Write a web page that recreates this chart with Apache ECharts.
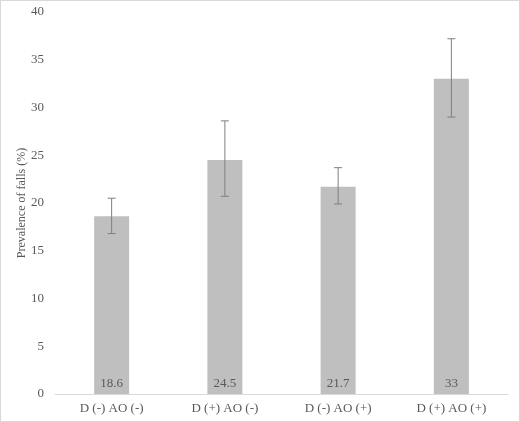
<!DOCTYPE html>
<html>
<head>
<meta charset="utf-8">
<script src="https://cdn.jsdelivr.net/npm/echarts@6/dist/echarts.min.js"></script>
<style>
  html, body { margin: 0; padding: 0; background: #fff; }
  #main { width: 520px; height: 422px; border: 1px solid #d9d9d9; box-sizing: border-box; }
</style>
</head>
<body>
<div id="main"></div>
<script>
// groups and values
var categories = ['D (-) AO (-)', 'D (+) AO (-)', 'D (-) AO (+)', 'D (+) AO (+)'];
var prevalence = [18.6, 24.5, 21.7, 33];
var ciLow = [16.8, 20.7, 19.9, 29.0];
var ciHigh = [20.5, 28.6, 23.7, 37.2];
var yTicks = [0, 5, 10, 15, 20, 25, 30, 35, 40];

var font = 'Liberation Serif';
var textColor = '#595959';

var chart = echarts.init(document.getElementById('main'), null, { renderer: 'canvas' });

var errData = categories.map(function (c, i) {
  return [i, ciLow[i], ciHigh[i]];
});

var option = {
  animation: false,
  grid: { left: 54, right: 11, top: 11, bottom: 27 },
  xAxis: {
    type: 'category',
    data: categories,
    axisLine: { lineStyle: { color: '#d9d9d9', width: 1 } },
    axisTick: { show: false },
    axisLabel: { color: textColor, fontFamily: font, fontSize: 13, margin: 8 }
  },
  yAxis: {
    type: 'value',
    min: yTicks[0],
    max: yTicks[yTicks.length - 1],
    interval: 5,
    name: 'Prevalence of falls (%)',
    nameLocation: 'middle',
    nameGap: 27,
    nameMoveOverlap: false,
    nameTextStyle: { color: textColor, fontFamily: font, fontSize: 12 },
    axisLine: { show: false },
    axisTick: { show: false },
    splitLine: { show: false },
    axisLabel: { color: textColor, fontFamily: font, fontSize: 13, margin: 11 }
  },
  series: [
    {
      type: 'bar',
      data: prevalence,
      barWidth: 35,
      itemStyle: { color: '#bfbfbf' },
      label: {
        show: true,
        position: 'insideBottom',
        distance: 4,
        color: textColor,
        fontFamily: font,
        fontSize: 13
      }
    },
    {
      type: 'custom',
      data: errData,
      z: 10,
      renderItem: function (params, api) {
        var x = api.value(0);
        var lo = api.coord([x, api.value(1)]);
        var hi = api.coord([x, api.value(2)]);
        var cap = 4;
        var style = { stroke: '#7f7f7f', lineWidth: 1 };
        return {
          type: 'group',
          children: [
            { type: 'line', shape: { x1: hi[0], y1: hi[1], x2: lo[0], y2: lo[1] }, style: style },
            { type: 'line', shape: { x1: hi[0] - cap, y1: hi[1], x2: hi[0] + cap, y2: hi[1] }, style: style },
            { type: 'line', shape: { x1: lo[0] - cap, y1: lo[1], x2: lo[0] + cap, y2: lo[1] }, style: style }
          ]
        };
      }
    }
  ]
};

chart.setOption(option);
</script>
</body>
</html>
